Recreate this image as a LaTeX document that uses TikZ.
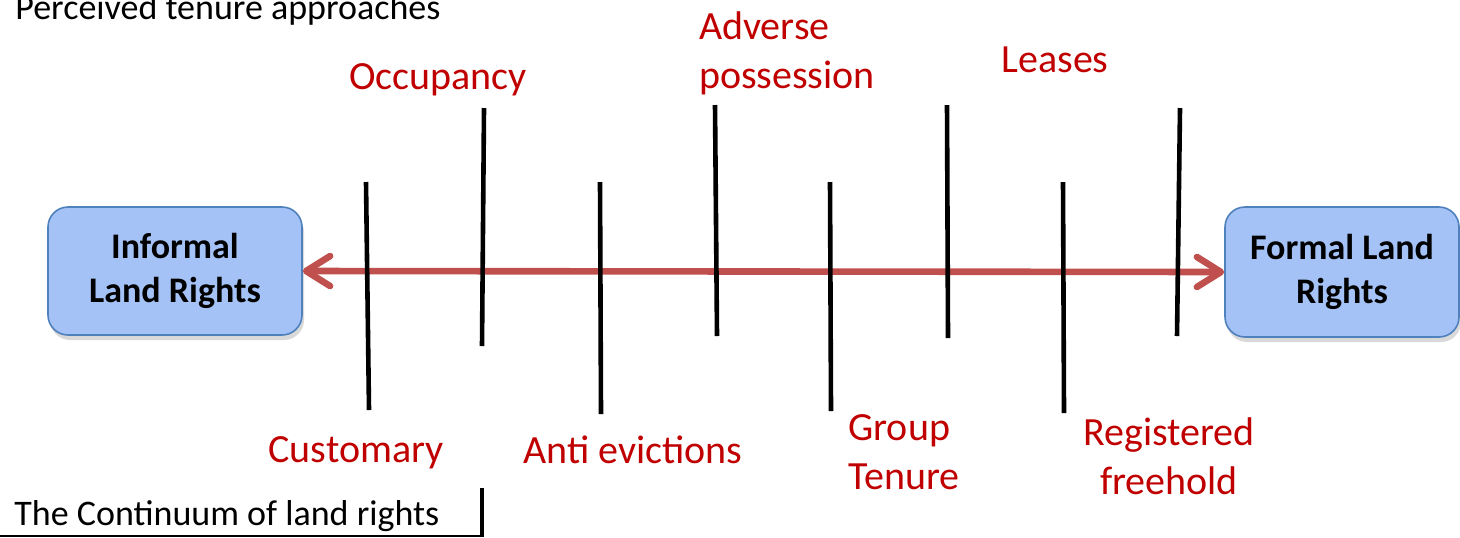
\documentclass[tikz,border=0pt]{standalone}
\usepackage{fontspec}
\setmainfont{Carlito}
\usepackage{tikz}
\usetikzlibrary{positioning, shadows}
\usetikzlibrary{arrows.meta}
\tikzset{>={Straight Barb[length=12pt,width=15pt,line cap=round,line join=round]}}
\definecolor{boxfill}{RGB}{164,194,246}
\definecolor{boxdraw}{RGB}{79,129,189}
\definecolor{arrowred}{RGB}{192,80,77}
\definecolor{labelred}{RGB}{192,0,0}

\begin{document}
\begin{tikzpicture}[x=0.5pt, y=-0.5pt, rightsnode/.style={rectangle, rounded corners=10pt, draw=boxdraw, fill=boxfill, line width=0.8pt, align=center, font=\fontsize{18}{22}\selectfont\bfseries, drop shadow={shadow xshift=1pt, shadow yshift=-2.5pt, opacity=.3}}, approach/.style={text=labelred, inner sep=0pt, font=\fontsize{20}{24.5}\selectfont}, caption/.style={inner sep=0pt, font=\fontsize{18}{22}\selectfont}, tickline/.style={line width=2.3pt, line cap=butt}, arrowline/.style={draw=arrowred, line width=3.3pt}]
    \useasboundingbox (0,0) rectangle (1460,537);

    %Nodes
    \node[rightsnode, minimum width=127pt, minimum height=64pt](informal) at (175,271){Informal\\Land Rights};
    \node[rightsnode, minimum width=117pt, minimum height=65pt](formal) at (1342,272){Formal Land\\Rights};
    \node[approach](occupancy) at (438,80){Occupancy};
    \node[approach, align=left](adverse) at (787,53){Adverse\\possession};
    \node[approach](leases) at (1055,60){Leases};
    \node[approach](customary) at (356,453){Customary};
    \node[approach](anti) at (633,450){Anti evictions};
    \node[approach, align=left](group) at (904,452){Group\\Tenure};
    \node[approach, align=center](registered) at (1169,456){Registered\\freehold};
    \node[caption, anchor=base west](perceived) at (15,19){Perceived tenure approaches};
    \node[caption, anchor=base west](continuum) at (14,525){The Continuum of land rights};

    %Lines
    \draw[arrowline, <->] (informal.east) -- (formal.west);
    \foreach \i/\xt/\yt/\xb/\yb in {1/366/182/369/410, 2/484/108/482/346, 3/600/182/601/414, 4/715/105/717/336, 5/830/182/831/411, 6/947/105/948/338, 7/1063/182/1064/413, 8/1180/108/1177/336}{
        \coordinate (tick\i top) at (\xt,\yt);
        \coordinate (tick\i bot) at (\xb,\yb);
        \draw[tickline] (tick\i top) -- (tick\i bot);
    }
    \draw[line width=0.75pt] (0,536) -- (484,536);
    \draw[line width=2pt] (482,488) -- (482,537);

\end{tikzpicture}
\end{document}
